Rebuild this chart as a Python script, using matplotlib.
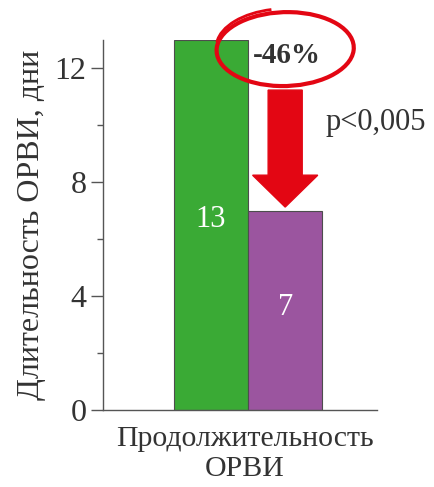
import matplotlib
matplotlib.use("Agg")
import matplotlib.pyplot as plt
from matplotlib.patches import Ellipse, Arc, FancyArrow

# data
groups = ["before", "after"]
values = [13, 7]
colors = ["#3aaa35", "#9b559f"]
yticks = [0, 4, 8, 12]
category = "Продолжительность\nОРВИ"
ylabel = "Длительность ОРВИ, дни"
change = "-46%"
pval = "p<0,005"

plt.rcParams["font.family"] = ["Liberation Serif", "DejaVu Serif"]
AX = "#555555"

fig = plt.figure(figsize=(4.34, 4.87), dpi=100)
ax = fig.add_axes([0.2373, 0.1581, 0.6314, 0.7598])

xs = range(len(values))
ax.bar(xs, values, width=1.0, color=colors, edgecolor="#4d4d4d", linewidth=0.8, zorder=2)
for x, v, y in zip(xs, values, [6.7, 3.6]):
    ax.text(x, y, str(v), color="white", fontsize=22, ha="center", va="center")

ax.set_xlim(-1.46, 2.24)
ax.set_ylim(0, 13)
ax.set_yticks(yticks)
ax.set_yticks([2, 6, 10], minor=True)
ax.set_xticks([])
ax.tick_params(axis="y", which="major", length=9, width=1, color=AX, labelsize=23,
               labelcolor="#333333", pad=3)
ax.tick_params(axis="y", which="minor", length=4, width=1, color=AX)
for s in ("top", "right"):
    ax.spines[s].set_visible(False)
for s in ("left", "bottom"):
    ax.spines[s].set_color(AX)
    ax.spines[s].set_linewidth(1)
ax.set_ylabel(ylabel, fontsize=23, color="#333333", labelpad=6)
ax.text(0.45, -0.55, category, fontsize=21.5, color="#333333", ha="center", va="top",
        linespacing=1.2)

# arrow showing the drop
red = "#e30613"
top_y = 11.24
ax.add_patch(FancyArrow(1.0, top_y, 0, values[1] + 0.13 - top_y, width=0.46,
                        head_width=0.88, head_length=1.12, length_includes_head=True,
                        color=red, zorder=3, clip_on=False))

# hand-drawn ring around the percentage
ax.add_patch(Ellipse((1.0, 12.68), 1.85, 2.6, angle=-3, fill=False, edgecolor=red,
                     linewidth=3, zorder=4, clip_on=False))
ax.add_patch(Arc((0.97, 12.8), 1.8, 2.6, angle=-3, theta1=100, theta2=175,
                 edgecolor=red, linewidth=2, zorder=4, clip_on=False))
ax.text(1.02, 12.45, change, fontsize=21, fontweight="bold", color="#333333",
        ha="center", va="center", zorder=5)
ax.text(1.55, 10.1, pval, fontsize=22, color="#333333", ha="left", va="center")

fig.savefig("out.png", dpi=100)
